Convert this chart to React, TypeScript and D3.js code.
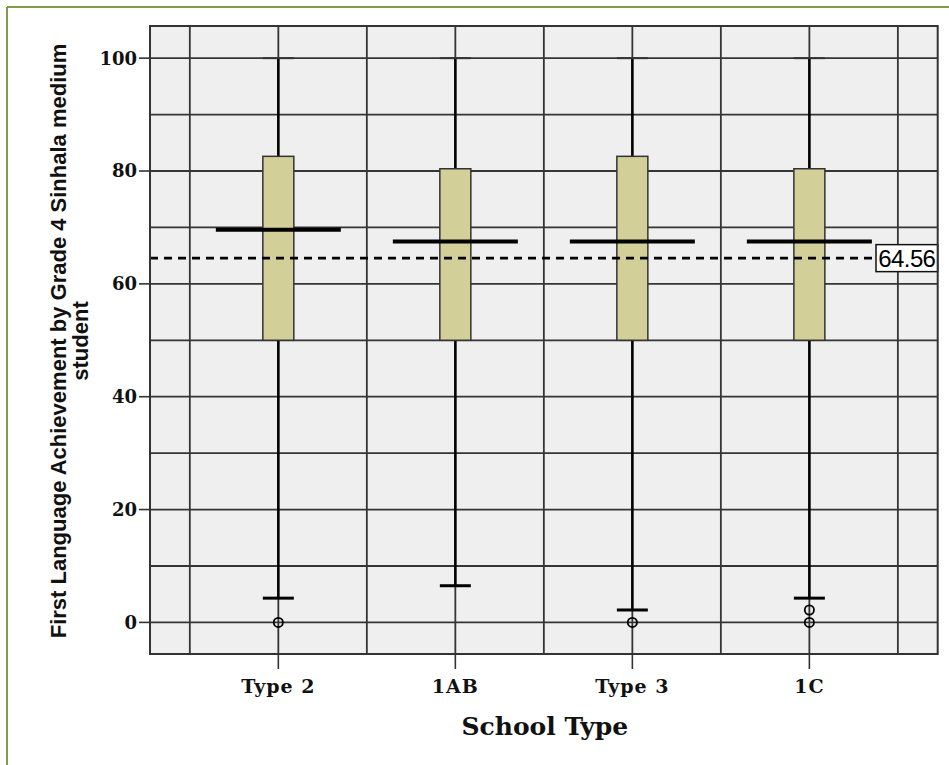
import React from "react";
import * as d3 from "d3";

// School types shown along the x axis
const categories = ["Type 2", "1AB", "Type 3", "1C"];
// Box plot summaries per school type
const q1Values = [50, 50, 50, 50];
const medianValues = [69.6, 67.5, 67.5, 67.5];
const q3Values = [82.6, 80.4, 82.6, 80.4];
const whiskerHigh = [100, 100, 100, 100];
const whiskerLow = [4.3, 6.5, 2.2, 4.3];
const outlierValues = [[0], [], [0], [0, 2.2]];
// Overall mean reference line
const meanValue = 64.56;
const yTickValues = [0, 20, 40, 60, 80, 100];
const yGridValues = [0, 10, 20, 30, 40, 50, 60, 70, 80, 90, 100];

const W = 949;
const H = 765;
const plotLeft = 150;
const plotRight = 937.7;
const plotTop = 26;
const plotBottom = 654;

const serif = "'DejaVu Serif', serif";
const sans = "'Liberation Sans', Arial, sans-serif";

export default function App() {
  const y = d3.scaleLinear().domain([-5.6, 105.7]).range([plotBottom, plotTop]);
  const x = d3
    .scalePoint<string>()
    .domain(categories)
    .range([plotLeft, plotRight])
    .padding(0.725);
  const step = x.step();
  const boxW = 31;
  const medianHalf = 62.5;
  const gridColor = "#353535";

  const vGrid: number[] = [];
  categories.forEach((c, i) => {
    const cx = x(c)!;
    if (i === 0) vGrid.push(cx - step / 2);
    vGrid.push(cx);
    vGrid.push(cx + step / 2);
  });

  const meanY = y(meanValue);
  const labelLeft = 876;
  const labelH = 27;

  return (
    <div style={{ position: "absolute", left: 0, top: 0, width: W, height: H, background: "#fff" }}>
      <svg width={W} height={H} style={{ display: "block" }}>
        <rect x={0} y={0} width={W} height={H} fill="#ffffff" />
        {/* outer frame */}
        <line x1={7} y1={7} x2={W} y2={7} stroke="#7f9c48" strokeWidth={2} />
        <line x1={7} y1={7} x2={7} y2={H} stroke="#7f9c48" strokeWidth={2} />

        {/* plot background */}
        <rect x={plotLeft} y={plotTop} width={plotRight - plotLeft} height={plotBottom - plotTop} fill="#efefef" />

        {/* grid */}
        {yGridValues.map((v) => (
          <line key={"hg" + v} x1={plotLeft} x2={plotRight} y1={y(v)} y2={y(v)} stroke={gridColor} strokeWidth={1.8} />
        ))}
        {vGrid.map((gx, i) => (
          <line key={"vg" + i} x1={gx} x2={gx} y1={plotTop} y2={plotBottom} stroke={gridColor} strokeWidth={1.8} />
        ))}

        {/* boxes */}
        {categories.map((c, i) => {
          const cx = x(c)!;
          return (
            <g key={"box" + c}>
              <line x1={cx} x2={cx} y1={y(whiskerHigh[i])} y2={y(q3Values[i])} stroke="#000" strokeWidth={2.5} />
              <line x1={cx} x2={cx} y1={y(q1Values[i])} y2={y(whiskerLow[i])} stroke="#000" strokeWidth={2.5} />
              <line x1={cx - boxW / 2} x2={cx + boxW / 2} y1={y(whiskerHigh[i])} y2={y(whiskerHigh[i])} stroke="#333" strokeWidth={2} />
              <line x1={cx - boxW / 2} x2={cx + boxW / 2} y1={y(whiskerLow[i])} y2={y(whiskerLow[i])} stroke="#000" strokeWidth={3} />
              <rect
                x={cx - boxW / 2}
                y={y(q3Values[i])}
                width={boxW}
                height={y(q1Values[i]) - y(q3Values[i])}
                fill="#d3cf98"
                stroke="#333"
                strokeWidth={1.5}
              />
              <line x1={cx - medianHalf} x2={cx + medianHalf} y1={y(medianValues[i])} y2={y(medianValues[i])} stroke="#000" strokeWidth={4} />
              {outlierValues[i].map((v, j) => (
                <circle key={j} cx={cx} cy={y(v)} r={4.6} fill="none" stroke="#000" strokeWidth={1.8} />
              ))}
            </g>
          );
        })}

        {/* mean reference line */}
        <line
          x1={plotLeft}
          x2={labelLeft}
          y1={meanY}
          y2={meanY}
          stroke="#000"
          strokeWidth={2.6}
          strokeDasharray="8,6"
        />
        <rect x={labelLeft} y={meanY - labelH / 2} width={plotRight - labelLeft} height={labelH} fill="#fff" stroke="#111" strokeWidth={1.5} />
        <text x={(labelLeft + plotRight) / 2} y={meanY + 8.5} textAnchor="middle" fontFamily={sans} fontSize={24} letterSpacing={-0.6} fill="#000">
          {meanValue.toFixed(2)}
        </text>

        {/* plot frame */}
        <rect x={plotLeft} y={plotTop} width={plotRight - plotLeft} height={plotBottom - plotTop} fill="none" stroke="#333" strokeWidth={2} />

        {/* y axis ticks */}
        {yTickValues.map((v) => (
          <g key={"yt" + v}>
            <line x1={139} x2={plotLeft} y1={y(v)} y2={y(v)} stroke="#333" strokeWidth={1.6} />
            <text x={137} y={y(v)} dy="0.36em" textAnchor="end" fontFamily={serif} fontWeight="bold" fontSize={18} fill="#111">
              {v}
            </text>
          </g>
        ))}

        {/* x axis ticks */}
        {categories.map((c) => (
          <g key={"xt" + c}>
            <line x1={x(c)!} x2={x(c)!} y1={plotBottom} y2={669} stroke="#333" strokeWidth={1.6} />
            <text x={x(c)!} y={693} textAnchor="middle" fontFamily={serif} fontWeight="bold" fontSize={19} letterSpacing={1} fill="#111">
              {c}
            </text>
          </g>
        ))}

        {/* axis titles */}
        <text x={(plotLeft + plotRight) / 2 + 1} y={735} textAnchor="middle" fontFamily={serif} fontWeight="bold" fontSize={25} fill="#111">
          School Type
        </text>
        <g transform={`translate(0, ${(plotTop + plotBottom) / 2 + 1}) rotate(-90)`}>
          <text x={0} y={66} textAnchor="middle" fontFamily={sans} fontWeight="bold" fontSize={22} fill="#111">
            First Language Achievement by Grade 4 Sinhala medium
          </text>
          <text x={0} y={88} textAnchor="middle" fontFamily={sans} fontWeight="bold" fontSize={22} fill="#111">
            student
          </text>
        </g>
      </svg>
    </div>
  );
}
